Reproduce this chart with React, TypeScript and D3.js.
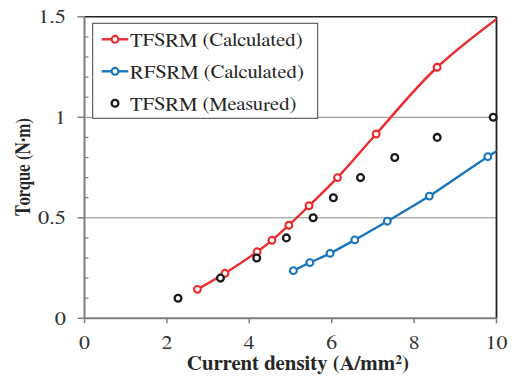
import React from "react";
import * as d3 from "d3";

const redX = [2.74, 3.41, 4.19, 4.55, 4.96, 5.45, 6.14, 7.08, 8.56, 10.6];
const redY = [0.144, 0.224, 0.331, 0.388, 0.463, 0.56, 0.7, 0.917, 1.249, 1.58];
const blueX = [5.07, 5.47, 5.96, 6.56, 7.35, 8.37, 9.79, 10.8];
const blueY = [0.237, 0.277, 0.323, 0.39, 0.483, 0.608, 0.804, 0.93];
const measX = [2.27, 3.3, 4.18, 4.9, 5.55, 6.04, 6.7, 7.53, 8.56, 9.92];
const measY = [0.1, 0.2, 0.3, 0.4, 0.5, 0.6, 0.7, 0.8, 0.9, 1.0];
const xTicks = [0, 2, 4, 6, 8, 10];
const yTicks = [0, 0.5, 1, 1.5];
const yTickLabels = ["0", "0.5", "1", "1.5"];
const yMinor = [0.1, 0.2, 0.3, 0.4, 0.6, 0.7, 0.8, 0.9, 1.1, 1.2, 1.3, 1.4];
const legendLabels = ["TFSRM (Calculated)", "RFSRM (Calculated)", "TFSRM (Measured)"];

const RED = "#EE2B2F";
const BLUE = "#1A75BC";
const BLACK = "#1a1a1a";
const FONT = "FreeSerif, 'Liberation Serif', serif";
const SX = 1.12;
const tstyle = { fontFamily: FONT };

export default function App() {
  const x = d3.scaleLinear().domain([0, 10]).range([84.5, 496.5]);
  const y = d3.scaleLinear().domain([0, 1.5]).range([318.3, 16.8]);
  const line = d3
    .line<[number, number]>()
    .x((d) => x(d[0]))
    .y((d) => y(d[1]))
    .curve(d3.curveCatmullRom.alpha(0.5));
  const red = redX.map((v, i) => [v, redY[i]] as [number, number]);
  const blue = blueX.map((v, i) => [v, blueY[i]] as [number, number]);
  const meas = measX.map((v, i) => [v, measY[i]] as [number, number]);
  const inside = (d: [number, number]) => d[0] <= 10 && d[1] <= 1.5;
  const [x0, x1] = x.range();
  const [y0, y1] = y.range();
  const legendColors = [RED, BLUE, BLACK];
  const R = 3.4;

  return (
    <svg
      width={515}
      height={379}
      style={{ position: "absolute", left: 0, top: 0, background: "#fff", fontFamily: FONT }}
    >
      <defs>
        <clipPath id="plotclip">
          <rect x={x0} y={y1} width={x1 - x0} height={y0 - y1} />
        </clipPath>
      </defs>
      <rect x={0} y={0} width={515} height={379} fill="#fff" />
      {[0.5, 1].map((v) => (
        <line key={v} x1={x0} x2={x1} y1={y(v)} y2={y(v)} stroke="#8a8a8a" strokeWidth={1} />
      ))}
      <line x1={x0} x2={x1} y1={y1} y2={y1} stroke="#222" strokeWidth={1.5} />
      <line x1={x1} x2={x1} y1={y1} y2={y0} stroke="#222" strokeWidth={1.8} />
      <line x1={x0} x2={x0} y1={y1} y2={y0} stroke="#7f7f7f" strokeWidth={2} />
      <line x1={x0} x2={x1} y1={y0} y2={y0} stroke="#7f7f7f" strokeWidth={2} />
      {yTicks.map((v) => (
        <line key={v} x1={x0 - 7} x2={x0} y1={y(v)} y2={y(v)} stroke="#7f7f7f" strokeWidth={1.5} />
      ))}
      {yMinor.map((v) => (
        <line key={v} x1={x0} x2={x0 + 4} y1={y(v)} y2={y(v)} stroke="#7f7f7f" strokeWidth={1.2} />
      ))}
      {xTicks.map((v) => (
        <line key={v} x1={x(v)} x2={x(v)} y1={y0} y2={y0 + 5} stroke="#7f7f7f" strokeWidth={1.5} />
      ))}
      {xTicks.map((v) => (
        <text
          key={v}
          transform={`translate(${x(v)},349) scale(${SX},1)`}
          textAnchor="middle"
          fontSize={19.5}
          fill="#333"
          style={tstyle}
        >
          {v}
        </text>
      ))}
      {yTicks.map((v, i) => (
        <text
          key={v}
          transform={`translate(66,${y(v) + 6.6}) scale(${SX},1)`}
          textAnchor="end"
          fontSize={20}
          fill="#333"
          style={tstyle}
        >
          {yTickLabels[i]}
        </text>
      ))}
      <text
        transform={`translate(298,370) scale(1.05,1)`}
        textAnchor="middle"
        fontSize={20}
        fontWeight="bold"
        fill="#262626"
        style={tstyle}
      >
        Current density (A/mm
        <tspan dy={-6} fontSize={13}>2</tspan>
        <tspan dy={6}>)</tspan>
      </text>
      <text
        transform={`translate(30,167) scale(1.25,1) rotate(-90)`}
        textAnchor="middle"
        fontSize={17}
        fontWeight="bold"
        fill="#262626"
        style={tstyle}
      >
        Torque (N·m)
      </text>
      <g clipPath="url(#plotclip)">
        <path d={line(red) || ""} fill="none" stroke={RED} strokeWidth={2.4} />
        <path d={line(blue) || ""} fill="none" stroke={BLUE} strokeWidth={2.4} />
      </g>
      {red.filter(inside).map((d, i) => (
        <circle key={"r" + i} cx={x(d[0])} cy={y(d[1])} r={R} fill="#fff" stroke={RED} strokeWidth={2.1} />
      ))}
      {blue.filter(inside).map((d, i) => (
        <circle key={"b" + i} cx={x(d[0])} cy={y(d[1])} r={R} fill="#fff" stroke={BLUE} strokeWidth={2.1} />
      ))}
      {meas.filter(inside).map((d, i) => (
        <circle key={"m" + i} cx={x(d[0])} cy={y(d[1])} r={R} fill="#fff" stroke={BLACK} strokeWidth={2.3} />
      ))}
      <rect x={92.7} y={23.3} width={225} height={95} fill="#fff" stroke="#444" strokeWidth={1} />
      {legendLabels.map((label, i) => {
        const cy = 39.3 + i * 32;
        const c = legendColors[i];
        return (
          <g key={label}>
            {i < 2 && <line x1={101.7} x2={128.3} y1={cy} y2={cy} stroke={c} strokeWidth={2.4} />}
            <circle cx={115} cy={cy} r={R} fill="#fff" stroke={c} strokeWidth={i < 2 ? 2.1 : 2.3} />
            <text
              transform={`translate(130,${cy + 6.6}) scale(${SX},1)`}
              fontSize={18.5}
              fill="#262626"
              style={tstyle}
            >
              {label}
            </text>
          </g>
        );
      })}
    </svg>
  );
}
